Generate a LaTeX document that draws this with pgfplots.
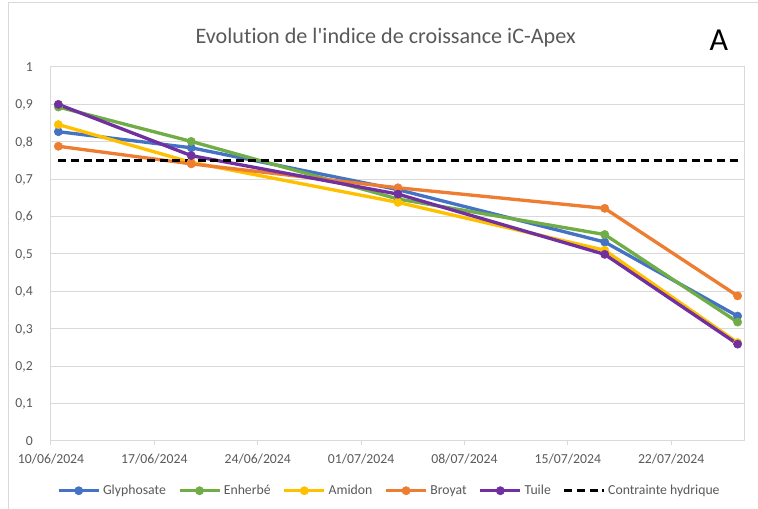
\documentclass[border=0pt]{standalone}
\usepackage{fontspec}
\setmainfont{Carlito}[Ligatures={TeXOff,NoCommon}]
\usepackage{pgfplots}
\pgfplotsset{compat=1.18}
\definecolor{cGly}{HTML}{4472C4}
\definecolor{cEnh}{HTML}{70AD47}
\definecolor{cAmi}{HTML}{FFC000}
\definecolor{cBro}{HTML}{ED7D31}
\definecolor{cTui}{HTML}{7030A0}
\definecolor{txt}{HTML}{595959}
\definecolor{gridc}{HTML}{D9D9D9}
\begin{document}
\begin{tikzpicture}[x=1pt,y=1pt]
\useasboundingbox (-38.25,-51) rectangle (530.25,330.75);
\draw[gridc, line width=0.75pt] (-31.5,329) -- (540,329);
\draw[gridc, line width=0.75pt] (-31.5,-60) -- (-31.5,329);
\begin{axis}[
  at={(0,0)}, anchor=south west,
  scale only axis, width=520.5pt, height=280.5pt,
  xmin=0, xmax=47, ymin=0, ymax=1,
  xtick={0,7,14,21,28,35,42},
  xticklabels={10/06/2024,17/06/2024,24/06/2024,01/07/2024,08/07/2024,15/07/2024,22/07/2024},
  ytick={0,0.1,0.2,0.3,0.4,0.5,0.6,0.7,0.8,0.9,1},
  xtick pos=bottom, ytick pos=left,
  ymajorgrids, grid style={gridc, line width=0.75pt},
  axis line style={gridc, line width=0.75pt},
  tick align=outside, major tick length=3pt,
  xtick style={gridc, line width=0.75pt},
  ytick style={draw=none},
  /pgf/number format/.cd, use comma, fixed, precision=1, assume math mode=true,
  /pgfplots/.cd,
  tick label style={font=\fontsize{10.3}{12}\selectfont, text=txt},
  xticklabel style={anchor=base, inner sep=0pt, yshift=-14pt},
  yticklabel style={anchor=base east, inner sep=0pt, xshift=-10.5pt, yshift=-3.3pt},
  legend columns=6,
  legend style={at={(axis description cs:0.488,-0.133)}, anchor=center, draw=none,
    font=\fontsize{10.3}{12}\selectfont, text=txt, inner sep=0pt,
    /tikz/every even column/.append style={column sep=7pt}},
  legend image code/.code={\draw[mark repeat=2,mark phase=2,#1] plot coordinates {(0pt,0pt) (15pt,0pt) (30pt,0pt)};},
  every axis plot/.append style={line join=round},
]
\addplot[cGly, line width=2.5pt, mark=*, mark size=3.1pt, mark options={solid, fill=cGly, draw=cGly, line width=0.4pt}]
  coordinates {(0.5,0.827) (9.5,0.784) (23.5,0.672) (37.5,0.532) (46.5,0.334)};
\addlegendentry{Glyphosate}
\addplot[cEnh, line width=2.5pt, mark=*, mark size=3.1pt, mark options={solid, fill=cEnh, draw=cEnh, line width=0.4pt}]
  coordinates {(0.5,0.893) (9.5,0.801) (23.5,0.647) (37.5,0.552) (46.5,0.318)};
\addlegendentry{Enherbé}
\addplot[cAmi, line width=2.5pt, mark=*, mark size=3.1pt, mark options={solid, fill=cAmi, draw=cAmi, line width=0.4pt}]
  coordinates {(0.5,0.846) (9.5,0.745) (23.5,0.638) (37.5,0.510) (46.5,0.263)};
\addlegendentry{Amidon}
\addplot[cBro, line width=2.5pt, mark=*, mark size=3.1pt, mark options={solid, fill=cBro, draw=cBro, line width=0.4pt}]
  coordinates {(0.5,0.788) (9.5,0.741) (23.5,0.677) (37.5,0.622) (46.5,0.388)};
\addlegendentry{Broyat}
\addplot[cTui, line width=2.5pt, mark=*, mark size=3.1pt, mark options={solid, fill=cTui, draw=cTui, line width=0.4pt}]
  coordinates {(0.5,0.900) (9.5,0.763) (23.5,0.660) (37.5,0.499) (46.5,0.259)};
\addlegendentry{Tuile}
\addplot[black, line width=2pt, dash pattern=on 6pt off 3.5pt]
  coordinates {(0.5,0.75) (46.5,0.75)};
\addlegendentry{Contrainte hydrique}
\end{axis}
\node[anchor=base, text=txt, font=\fontsize{16.6}{19}\selectfont, inner sep=0pt] at (251,297.75) {Evolution de l'indice de croissance iC-Apex};
\node[anchor=base, text=black, font=\fontsize{24}{28}\selectfont, inner sep=0pt] at (501,292.5) {A};
\end{tikzpicture}
\end{document}
